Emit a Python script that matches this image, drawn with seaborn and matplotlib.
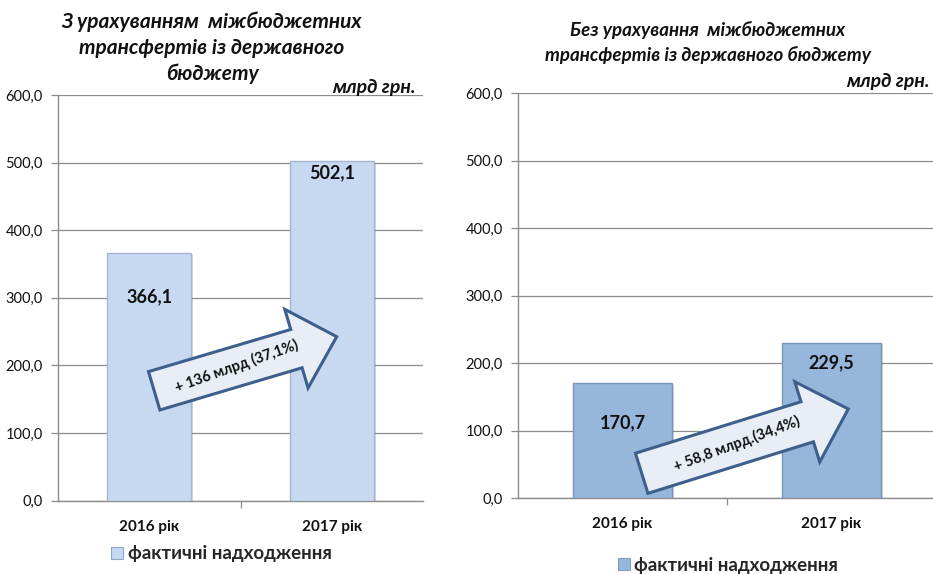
import matplotlib
matplotlib.use("Agg")
import numpy as np
import pandas as pd
import matplotlib.pyplot as plt
import seaborn as sns
from matplotlib.patches import Polygon, Patch
from matplotlib.transforms import Affine2D
import matplotlib.patheffects as pe

# ---------------- data ----------------
years = ["2016 рік", "2017 рік"]
with_transfers = [366.1, 502.1]
without_transfers = [170.7, 229.5]
y_ticks = [0, 100, 200, 300, 400, 500, 600]
title_left = ["З урахуванням  міжбюджетних", "трансфертів із державного", "бюджету"]
title_right = ["Без урахування  міжбюджетних", "трансфертів із державного бюджету"]
unit_label = "млрд грн."
legend_label = "фактичні надходження"
growth_labels = ["+ 136 млрд (37,1%)", "+ 58,8 млрд.(34,4%)"]

# ---------------- style ----------------
sns.set_theme(style="white")
FONT = ["Lato", "DejaVu Sans"]
plt.rcParams["font.family"] = FONT

W, H = 933, 574
fig = plt.figure(figsize=(W / 100, H / 100), dpi=100)
PIX = Affine2D().scale(1, -1).translate(0, H)  # pixel coords, origin top-left


def fx(px):
    return px / W


def fy(py):
    return 1 - py / H


GRID = "#8c8c8c"

ax1 = fig.add_axes([fx(58), fy(500.7), fx(365), 405.7 / H])
ax2 = fig.add_axes([fx(518), fy(498), fx(418), 405 / H])

df1 = pd.DataFrame({"year": years, "value": with_transfers})
df2 = pd.DataFrame({"year": years, "value": without_transfers})

shadow = [pe.SimplePatchShadow(offset=(1.5, -1.5), shadow_rgbFace="#000000", alpha=0.15), pe.Normal()]

sns.barplot(data=df1, x="year", y="value", color="#c6d9f1", saturation=1,
            width=0.46, ax=ax1, edgecolor="#a3b7d3", linewidth=1)
sns.barplot(data=df2, x="year", y="value", color="#97b6dc", saturation=1,
            width=0.47, ax=ax2, edgecolor="#7896bd", linewidth=1)

label_offsets = {ax1: [44, 12], ax2: [40, 20]}  # pixel offsets below bar top

for ax, vals in ((ax1, with_transfers), (ax2, without_transfers)):
    for p in ax.patches:
        p.set_path_effects(shadow)
        p.set_zorder(3)
    ax.set_ylim(0, 600)
    ax.set_xlim(-0.5, 1.5)
    ax.set_yticks(y_ticks)
    ax.set_yticklabels([f"{v:.1f}".replace(".", ",") for v in y_ticks],
                       fontsize=10.5, color="#111111")
    ax.yaxis.grid(True, color=GRID, linewidth=0.9)
    ax.set_axisbelow(True)
    for s in ("top", "right"):
        ax.spines[s].set_visible(False)
    for s in ("left", "bottom"):
        ax.spines[s].set_color(GRID)
        ax.spines[s].set_linewidth(1.0)
    ax.tick_params(axis="y", which="major", direction="out", length=5,
                   color=GRID, width=0.9, pad=6, left=True)
    ax.set_xticks([0, 1])
    ax.set_xticklabels(years, fontsize=11, fontweight="bold", color="#111111")
    ax.tick_params(axis="x", which="major", length=0, pad=14)
    ax.set_xticks([0.5], minor=True)
    ax.tick_params(axis="x", which="minor", length=5, color=GRID, width=0.9, bottom=True)
    ax.set_xlabel("")
    ax.set_ylabel("")
    for i, v in enumerate(vals):
        ax.annotate(f"{v:.1f}".replace(".", ","), xy=(i, v),
                    xytext=(0, -label_offsets[ax][i]), textcoords="offset pixels",
                    ha="center", va="center", fontsize=13, fontweight="bold",
                    color="#111111", zorder=5)

# ---------------- titles ----------------
title_kw = dict(ha="center", va="center", fontweight="bold", fontstyle="italic", color="#111111")
for line, py in zip(title_left, (22, 48, 74)):
    fig.text(fx(212), fy(py), line, fontsize=15, **title_kw)
for line, py in zip(title_right, (30, 55)):
    fig.text(fx(708), fy(py), line, fontsize=13.5, **title_kw)
fig.text(fx(416), fy(87), unit_label, ha="right", va="center", fontsize=14,
         fontweight="bold", fontstyle="italic", color="#111111")
fig.text(fx(930), fy(82), unit_label, ha="right", va="center", fontsize=14,
         fontweight="bold", fontstyle="italic", color="#111111")


# ---------------- growth arrows ----------------
def block_arrow(tail, tip, shaft_w, head_w, head_l, text, frac):
    t = np.array(tail, float)
    p = np.array(tip, float)
    d = p - t
    L = np.hypot(*d)
    u = d / L
    n = np.array([-u[1], u[0]])
    base = p - u * head_l
    pts = [t + n * shaft_w / 2, base + n * shaft_w / 2, base + n * head_w / 2, p,
           base - n * head_w / 2, base - n * shaft_w / 2, t - n * shaft_w / 2]
    poly = Polygon(pts, closed=True, facecolor="#e9eef6", edgecolor="#3d5f8c",
                   linewidth=2.2, transform=PIX, zorder=10, joinstyle="miter")
    fig.add_artist(poly)
    c = t + d * frac
    ang = np.degrees(np.arctan2(-d[1], d[0])) + 3
    fig.text(fx(c[0]), fy(c[1]), text, ha="center", va="center", rotation=ang,
             rotation_mode="anchor", fontsize=10.5, fontweight="bold",
             color="#111111", zorder=11)


block_arrow((154.2, 390.8), (336.7, 336.7), 40, 82, 42, growth_labels[0], 0.45)
block_arrow((641.7, 473.3), (848.3, 409.0), 42, 84, 43, growth_labels[1], 0.46)

# ---------------- legends ----------------
h1 = Patch(facecolor="#c6d9f1", edgecolor="#8ea6c8", linewidth=0.8)
h2 = Patch(facecolor="#97b6dc", edgecolor="#7f9cc2", linewidth=0.8)
for h, cx, cy in ((h1, 221, 554), (h2, 728, 565)):
    fig.legend([h], [legend_label], loc="center", bbox_to_anchor=(fx(cx), fy(cy)),
               frameon=False, handlelength=0.65, handleheight=0.65, handletextpad=0.25,
               prop={"weight": "bold", "size": 13.5, "family": FONT})

fig.savefig("out.png", dpi=100, facecolor="white")
